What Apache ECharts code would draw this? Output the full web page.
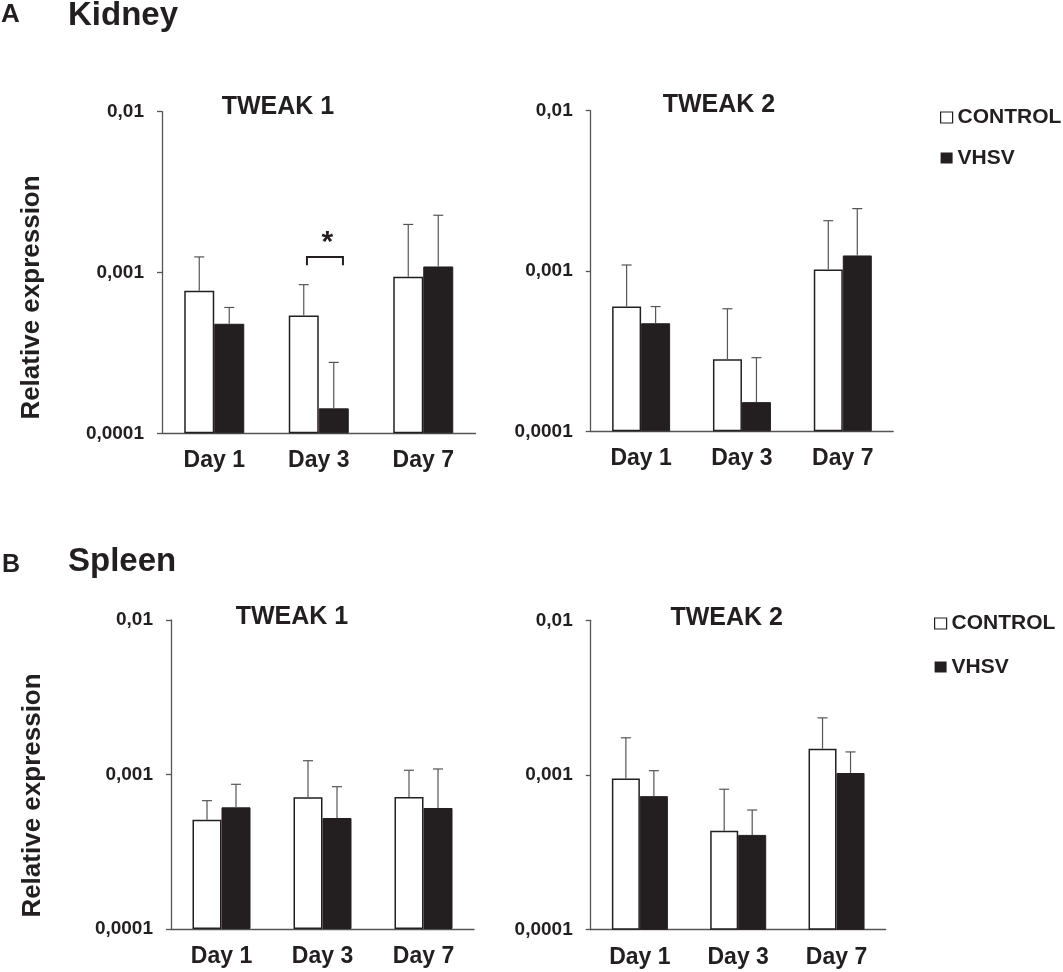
<!DOCTYPE html>
<html>
<head>
<meta charset="utf-8">
<title>TWEAK expression - Kidney / Spleen</title>
<script src="https://cdn.jsdelivr.net/npm/echarts@6/dist/echarts.min.js"></script>
<style>
  html, body { margin: 0; padding: 0; background: #fff; }
  #chart { width: 1063px; height: 972px; }
</style>
</head>
<body>
<div id="chart"></div>
<script>
// categories / tick labels
const days = ['Day 1', 'Day 3', 'Day 7'];
const groups = ['CONTROL', 'VHSV'];
const yTickLabels = ['0,0001', '0,001', '0,01'];

// A - Kidney, TWEAK 1 (mean + SD)
const kidneyT1Control = [0.00077, 0.00054, 0.00094];
const kidneyT1ControlSd = [0.00048, 0.00030, 0.00105];
const kidneyT1Vhsv = [0.00048, 0.000143, 0.00109];
const kidneyT1VhsvSd = [0.000126, 0.000133, 0.00118];
// A - Kidney, TWEAK 2
const kidneyT2Control = [0.00060, 0.000281, 0.00102];
const kidneyT2ControlSd = [0.00049, 0.00030, 0.00104];
const kidneyT2Vhsv = [0.000472, 0.000152, 0.00125];
const kidneyT2VhsvSd = [0.000128, 0.000136, 0.0012];
// B - Spleen, TWEAK 1
const spleenT1Control = [0.00051, 0.000712, 0.000715];
const spleenT1ControlSd = [0.000167, 0.000516, 0.00035];
const spleenT1Vhsv = [0.000613, 0.000523, 0.000607];
const spleenT1VhsvSd = [0.000251, 0.000311, 0.000479];
// B - Spleen, TWEAK 2
const spleenT2Control = [0.00095, 0.000436, 0.00148];
const spleenT2ControlSd = [0.00079, 0.000373, 0.00086];
const spleenT2Vhsv = [0.00073, 0.00041, 0.00103];
const spleenT2VhsvSd = [0.000336, 0.000184, 0.00038];

// significance bracket, kidney TWEAK 1, Day 3: [category, bracket top, leg end]
const sigKidneyT1 = [[1, 0.00125, 0.00111]];

const FONT = '"Liberation Sans", Arial, sans-serif';
const INK = '#231f20';
const AXIS = '#555';

const panels = [
    { grid: { left: 162, top: 111.7, width: 313.5, height: 321.6 }, barW: 30,
      title: 'TWEAK 1', tx: 278, ty: 107.5,
      c: kidneyT1Control, cSd: kidneyT1ControlSd, v: kidneyT1Vhsv, vSd: kidneyT1VhsvSd },
    { grid: { left: 590.7, top: 110.7, width: 302.5, height: 320.6 }, barW: 29,
      title: 'TWEAK 2', tx: 719, ty: 105.5,
      c: kidneyT2Control, cSd: kidneyT2ControlSd, v: kidneyT2Vhsv, vSd: kidneyT2VhsvSd },
    { grid: { left: 171, top: 620, width: 303, height: 309 }, barW: 29,
      title: 'TWEAK 1', tx: 292, ty: 617,
      c: spleenT1Control, cSd: spleenT1ControlSd, v: spleenT1Vhsv, vSd: spleenT1VhsvSd },
    { grid: { left: 590.7, top: 620.3, width: 295, height: 309.4 }, barW: 28,
      title: 'TWEAK 2', tx: 726.7, ty: 618,
      c: spleenT2Control, cSd: spleenT2ControlSd, v: spleenT2Vhsv, vSd: spleenT2VhsvSd }
];

// upper-only error bar, shifted onto its bar
const errRender = (offset) => (params, api) => {
    const p0 = api.coord([api.value(0), api.value(1)]);
    const p1 = api.coord([api.value(0), api.value(2)]);
    const x = p0[0] + offset;
    const st = { stroke: AXIS, lineWidth: 1.2 };
    return {
        type: 'group',
        children: [
            { type: 'line', shape: { x1: x, y1: p0[1], x2: x, y2: p1[1] }, style: st },
            { type: 'line', shape: { x1: x - 5, y1: p1[1], x2: x + 5, y2: p1[1] }, style: st }
        ]
    };
};

const sigRender = (params, api) => {
    const top = api.coord([api.value(0), api.value(1)]);
    const leg = api.coord([api.value(0), api.value(2)]);
    const x1 = top[0] - 11.8, x2 = top[0] + 24.2;
    return {
        type: 'group',
        children: [
            { type: 'polyline',
              shape: { points: [[x1, leg[1]], [x1, top[1]], [x2, top[1]], [x2, leg[1]]] },
              style: { stroke: INK, lineWidth: 2, fill: null } },
            { type: 'text', x: top[0] + 8.5, y: top[1] - 14,
              style: { text: '*', font: 'bold 30px ' + FONT, fill: INK,
                       textAlign: 'center', textVerticalAlign: 'middle' } }
        ]
    };
};

const grid = [], xAxis = [], yAxis = [], series = [], graphic = [];

panels.forEach((p, i) => {
    grid.push(p.grid);
    xAxis.push({
        type: 'category', gridIndex: i, data: days,
        axisLine: { lineStyle: { color: AXIS, width: 1.3 } },
        axisTick: { length: 7, lineStyle: { color: AXIS, width: 1.3 } },
        axisLabel: { margin: 16, color: INK, fontSize: 23, fontWeight: 'bold', fontFamily: FONT }
    });
    yAxis.push({
        type: 'log', logBase: 10, gridIndex: i, min: 0.0001, max: 0.01, startValue: 0.0001,
        axisLine: { show: true, lineStyle: { color: AXIS, width: 1.3 } },
        axisTick: { show: true, length: 5, lineStyle: { color: AXIS, width: 1.3 } },
        splitLine: { show: false },
        minorTick: { show: false },
        axisLabel: {
            margin: 18, color: INK, fontSize: 19, fontWeight: 'bold', fontFamily: FONT,
            formatter: (val) => yTickLabels[Math.round(Math.log10(val)) + 4]
        }
    });
    series.push({
        name: groups[0], type: 'bar', xAxisIndex: i, yAxisIndex: i,
        barWidth: p.barW, barGap: '0%', data: p.c,
        itemStyle: { color: '#fff', borderColor: INK, borderWidth: 1.5 }
    });
    series.push({
        name: groups[1], type: 'bar', xAxisIndex: i, yAxisIndex: i,
        barWidth: p.barW, barGap: '0%', data: p.v,
        itemStyle: { color: INK, borderColor: INK, borderWidth: 1 }
    });
    series.push({
        name: 'sd-c' + i, type: 'custom', xAxisIndex: i, yAxisIndex: i, z: 3,
        renderItem: errRender(-p.barW / 2),
        data: p.c.map((m, k) => [k, m, m + p.cSd[k]])
    });
    series.push({
        name: 'sd-v' + i, type: 'custom', xAxisIndex: i, yAxisIndex: i, z: 3,
        renderItem: errRender(p.barW / 2),
        data: p.v.map((m, k) => [k, m, m + p.vSd[k]])
    });
    graphic.push({
        type: 'text', x: p.tx, y: p.ty,
        style: { text: p.title, font: 'bold 25px ' + FONT, fill: INK,
                 textAlign: 'center', textVerticalAlign: 'middle' }
    });
});

series.push({
    name: 'sig', type: 'custom', xAxisIndex: 0, yAxisIndex: 0, z: 4,
    renderItem: sigRender, data: sigKidneyT1
});

const heading = (txt, x, y, size) => ({
    type: 'text', x: x, y: y,
    style: { text: txt, font: 'bold ' + size + 'px ' + FONT, fill: INK,
             textAlign: 'left', textVerticalAlign: 'middle' }
});
const yName = (x, y) => ({
    type: 'text', x: x, y: y, rotation: Math.PI / 2,
    style: { text: 'Relative expression', font: 'bold 26px ' + FONT, fill: INK,
             textAlign: 'center', textVerticalAlign: 'middle' }
});
graphic.push(heading('A', 1, 14.5, 26), heading('Kidney', 68, 16, 33));
graphic.push(heading('B', 2, 565, 25), heading('Spleen', 68, 562, 33));
graphic.push(yName(32, 297.5), yName(33, 795.5));

const legendItems = [
    { name: groups[0], itemStyle: { color: '#fff', borderColor: INK, borderWidth: 1.2 } },
    { name: groups[1], itemStyle: { color: INK, borderColor: INK, borderWidth: 0 } }
];
const legendBase = {
    data: legendItems, orient: 'vertical', icon: 'rect', selectedMode: false,
    itemWidth: 12, itemHeight: 11, padding: 0,
    textStyle: { color: INK, fontSize: 21, fontWeight: 'bold', fontFamily: FONT }
};

const chart = echarts.init(document.getElementById('chart'));
chart.setOption({
    animation: false,
    backgroundColor: '#fff',
    grid: grid,
    xAxis: xAxis,
    yAxis: yAxis,
    legend: [
        Object.assign({}, legendBase, { left: 940, top: 107, itemGap: 19.5 }),
        Object.assign({}, legendBase, { left: 934, top: 613, itemGap: 22.5 })
    ],
    graphic: graphic,
    series: series
});
</script>
</body>
</html>
